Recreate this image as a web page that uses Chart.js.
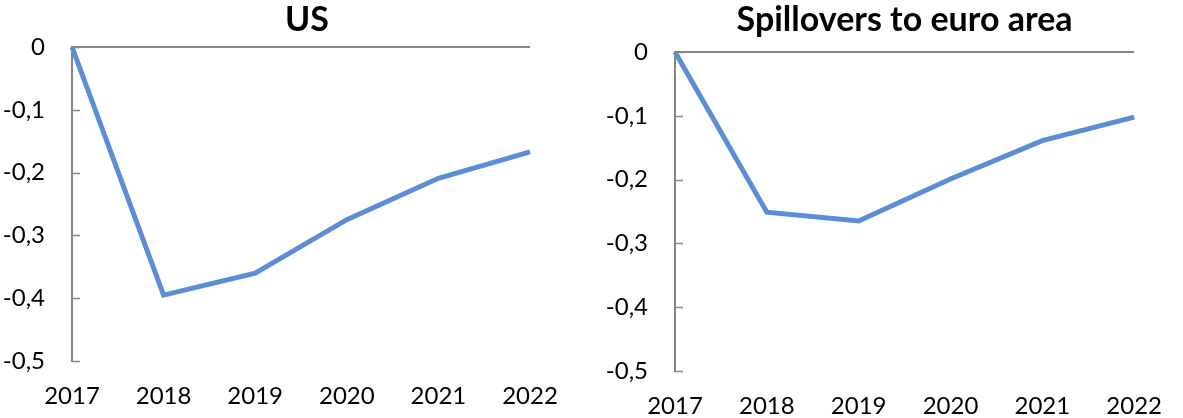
<!DOCTYPE html>
<html>
<head>
<meta charset="utf-8">
<script src="https://cdn.jsdelivr.net/npm/chart.js@4/dist/chart.umd.min.js"></script>
<style>
  html, body { margin: 0; padding: 0; background: #ffffff; overflow: hidden; }
  #wrap { position: relative; width: 1183px; height: 418px; }
  .box { position: absolute; top: 0; height: 418px; }
  #b1 { left: 0; width: 614px; z-index: 1; }
  #b2 { left: 590px; width: 593px; z-index: 2; }
</style>
</head>
<body>
<div id="wrap">
  <div class="box" id="b1"><canvas id="c1"></canvas></div>
  <div class="box" id="b2"><canvas id="c2"></canvas></div>
</div>
<script>
// ---- data ----
const years = ['2017', '2018', '2019', '2020', '2021', '2022'];
const usValues = [0, -0.395, -0.36, -0.275, -0.209, -0.167];
const euroValues = [0, -0.251, -0.265, -0.199, -0.139, -0.102];
const yTicks = [0, -0.1, -0.2, -0.3, -0.4, -0.5];
const titles = ['US', 'Spillovers to euro area'];

const FONT = 'Lato, "Open Sans", sans-serif';
const AXIS = '#868686';
const LINE = '#5B8ED6';

// inward tick marks on the y axis
const innerTicks = {
  id: 'innerTicks',
  afterDraw(chart) {
    const y = chart.scales.y;
    const ctx = chart.ctx;
    ctx.save();
    ctx.strokeStyle = AXIS;
    ctx.lineWidth = 1.5;
    y.ticks.forEach(t => {
      const py = Math.round(y.getPixelForValue(t.value)) + 0.5;
      ctx.beginPath();
      ctx.moveTo(y.right, py);
      ctx.lineTo(y.right + 8, py);
      ctx.stroke();
    });
    ctx.restore();
  }
};

function makeChart(id, title, values, opts) {
  const scales = {
    x: {
      type: 'category',
      offset: false,
      afterFit(scale) { scale.height = opts.xHeight; },
      grid: { display: false, drawTicks: false },
      border: { display: false },
      ticks: {
        color: '#000000',
        font: { family: FONT, size: 24 },
        padding: 21,
        maxRotation: 0,
        autoSkip: false
      }
    },
    y: {
      min: -0.5,
      max: 0,
      afterBuildTicks(scale) {
        scale.ticks = yTicks.map(v => ({ value: v }));
      },
      afterFit(scale) { scale.width = opts.yWidth; },
      grid: {
        drawTicks: false,
        lineWidth: 2,
        color: ctx => (ctx.tick && ctx.tick.value === 0) ? AXIS : 'rgba(0,0,0,0)'
      },
      border: { display: true, color: AXIS, width: 2 },
      ticks: {
        color: '#000000',
        font: { family: FONT, size: 24 },
        padding: 27,
        callback: v => v === 0 ? '0' : Number(v).toFixed(1).replace('.', ',')
      }
    }
  };
  if (opts.spacerRight) {
    scales.y2 = {
      type: 'linear',
      position: 'right',
      display: true,
      afterFit(scale) { scale.width = opts.spacerRight; },
      grid: { display: false, drawTicks: false },
      border: { display: false },
      ticks: { display: false }
    };
  }
  return new Chart(document.getElementById(id), {
    type: 'line',
    data: {
      labels: years,
      datasets: [{
        data: values,
        yAxisID: 'y',
        borderColor: LINE,
        borderWidth: 5,
        pointRadius: 0,
        tension: 0,
        fill: false
      }]
    },
    options: {
      responsive: true,
      maintainAspectRatio: false,
      animation: false,
      layout: { padding: { left: 0, right: opts.padRight, top: 0, bottom: 0 } },
      plugins: {
        legend: { display: false },
        tooltip: { enabled: false },
        title: {
          display: true,
          text: title,
          fullSize: opts.titleFull,
          color: '#000000',
          font: { family: FONT, size: 34, weight: 'bold' },
          padding: { top: 0, bottom: opts.titleBottom }
        }
      },
      scales: scales
    },
    plugins: [innerTicks]
  });
}

makeChart('c1', titles[0], usValues, { padRight: 0, spacerRight: 84, titleFull: true, titleBottom: 6.2, yWidth: 72, xHeight: 57 });
makeChart('c2', titles[1], euroValues, { padRight: 27, spacerRight: 0, titleFull: false, titleBottom: 11.2, yWidth: 85, xHeight: 47 });
</script>
</body>
</html>
